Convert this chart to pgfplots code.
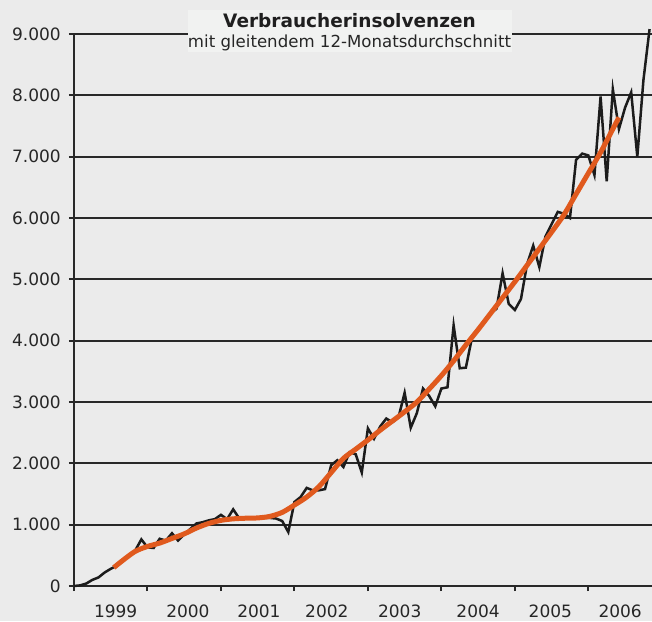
\documentclass[border=0pt]{standalone}
\usepackage{pgfplots}
\pgfplotsset{compat=1.18}
\usepackage{fontspec}
\setmainfont{DejaVu Sans}
\definecolor{bg}{RGB}{235,235,235}
\definecolor{boxbg}{RGB}{241,242,241}
\definecolor{gridc}{RGB}{40,40,40}
\definecolor{ma}{RGB}{224,90,30}
\definecolor{raw}{RGB}{28,28,28}
\begin{document}
\begin{tikzpicture}[x=1pt,y=1pt]
\fill[bg] (-74,-35) rectangle (578,586);
\useasboundingbox (-74,-35) rectangle (578,586);
\begin{axis}[
  at={(0,0)}, anchor=south west,
  scale only axis, width=578pt, height=552pt,
  xmin=0, xmax=94.4, ymin=0, ymax=9000,
  clip=false,
  axis lines=left,
  axis line style={-, line width=2.2pt, color=gridc},
  xtick={0,12,24,36,48,60,72,84},
  xticklabels={},
  extra x ticks={6.8,18.6,30.2,41.3,53.2,66,77.8,89.2},
  extra x tick labels={1999,2000,2001,2002,2003,2004,\raisebox{4pt}{2005},\raisebox{4pt}{2006}},
  extra x tick style={major tick length=0pt, grid=none},
  ytick={0,1000,...,9000},
  ymajorgrids,
  grid style={line width=1.8pt, color=gridc},
  tick align=outside,
  major tick length=5pt,
  tick style={line width=2pt, color=gridc},
  /pgf/number format/assume math mode=true,
  /pgf/number format/1000 sep={.},
  ticklabel style={font=\fontsize{17}{20}\selectfont, text=black!85},
  yticklabel style={inner sep=0pt, xshift=-8pt},
  xticklabel style={inner sep=0pt, anchor=north, yshift=-19pt},
]
\addplot[raw, line width=2.5pt, mark=none] coordinates {
(0,0) (1,10) (2,40) (3,100) (4,140) (5,220) (6,280) (7,330) (8,420) (9,500)
(10,580) (11,760) (12,630) (13,620) (14,770) (15,740) (16,860) (17,740) (18,840) (19,930)
(20,1020) (21,1040) (22,1070) (23,1090) (24,1160) (25,1090) (26,1250) (27,1100) (28,1110) (29,1110)
(30,1120) (31,1110) (32,1110) (33,1100) (34,1060) (35,880) (36,1370) (37,1450) (38,1600) (39,1560)
(40,1560) (41,1580) (42,1970) (43,2050) (44,1940) (45,2180) (46,2150) (47,1850) (48,2570) (49,2400)
(50,2600) (51,2730) (52,2670) (53,2750) (54,3150) (55,2580) (56,2820) (57,3220) (58,3100) (59,2930)
(60,3220) (61,3240) (62,4250) (63,3550) (64,3560) (65,4050) (66,4200) (67,4300) (68,4440) (69,4520)
(70,5100) (71,4600) (72,4500) (73,4680) (74,5250) (75,5550) (76,5200) (77,5700) (78,5900) (79,6100)
(80,6070) (81,6000) (82,6950) (83,7050) (84,7020) (85,6700) (86,7980) (87,6600) (88,8100) (89,7450)
(90,7800) (91,8050) (92,7000) (93,8250) (94,9080)
};
\addplot[ma, line width=5pt, mark=none, smooth, tension=0.5] coordinates {
(6.5,300) (8,420) (10,565) (12,645) (14,700) (16,775) (18,850) (20,945) (22,1020) (24,1070)
(26,1095) (28,1105) (30,1110) (32,1135) (34,1200) (36,1320) (38,1450) (40,1620) (42,1850) (44,2080)
(46,2230) (48,2380) (50,2540) (52,2690) (54,2840) (56,3000) (58,3210) (60,3430) (62,3670) (64,3930)
(66,4180) (68,4440) (70,4700) (72,4960) (74,5230) (76,5500) (78,5770) (80,6050) (82,6390) (84,6730)
(86,7070) (88,7450) (89,7640)
};
\end{axis}
\fill[boxbg] (114,534) rectangle (438,576);
\node[anchor=base, inner sep=0pt, text=black!88, font=\bfseries\fontsize{18.5}{20}\selectfont] at (275.5,558) {Verbraucherinsolvenzen};
\node[anchor=base, inner sep=0pt, text=black!85, font=\fontsize{16.6}{18}\selectfont] at (275.5,538) {mit gleitendem 12-Monatsdurchschnitt};
\end{tikzpicture}
\end{document}
